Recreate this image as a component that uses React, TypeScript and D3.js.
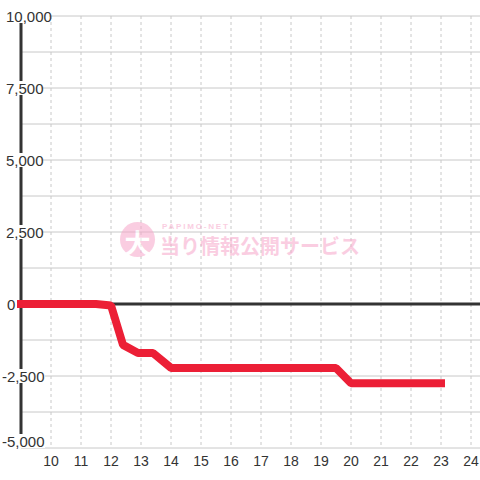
import React from "react";
import * as d3 from "d3";

const hours = [9, 11.5, 12, 12.4, 12.9, 13.4, 14, 19.5, 20, 23];
const values = [0, 0, -50, -1420, -1700, -1700, -2220, -2220, -2750, -2750];
const yTicks = [10000, 7500, 5000, 2500, 0, -2500, -5000];
const yGrid = [10000, 8750, 7500, 6250, 5000, 3750, 2500, 1250, 0, -1250, -2500, -3750, -5000];
const xTicks = [10, 11, 12, 13, 14, 15, 16, 17, 18, 19, 20, 21, 22, 23, 24];

const W = 480;
const H = 480;

export default function App() {
  const x = d3.scaleLinear().domain([9, 24]).range([21, 471]);
  const y = d3.scaleLinear().domain([-5000, 10000]).range([448, 16]);
  const line = d3
    .line<number>()
    .x((_, i) => x(hours[i]))
    .y((d) => y(d));
  const fmt = d3.format(",");
  const font = "'Liberation Sans', Arial, sans-serif";

  return (
    <svg
      width={W}
      height={H}
      style={{ position: "absolute", left: 0, top: 0, background: "#fff" }}
    >
      <rect x={0} y={0} width={W} height={H} fill="#fff" />
      {/* vertical dashed grid */}
      {xTicks.map((t) => (
        <line
          key={"vx" + t}
          x1={x(t)}
          x2={x(t)}
          y1={y(10000)}
          y2={y(-5000)}
          stroke="#c8c8c8"
          strokeWidth={1}
          strokeDasharray="3,3"
        />
      ))}
      {/* horizontal grid */}
      {yGrid.map((t) => (
        <line
          key={"hy" + t}
          x1={x(9)}
          x2={W}
          y1={y(t)}
          y2={y(t)}
          stroke="#c8c8c8"
          strokeWidth={1}
        />
      ))}
      {/* watermark */}
      <g opacity={0.55}>
        <circle cx={137.5} cy={239.5} r={17.5} fill="#f7a6c9" />
        <text
          x={137.5}
          y={241}
          textAnchor="middle"
          dominantBaseline="central"
          fontSize={26}
          fontWeight="bold"
          fill="#fff"
          fontFamily="'Noto Sans CJK JP', sans-serif"
        >
          大
        </text>
        <text
          x={162}
          y={229}
          fontSize={8}
          fontWeight="bold"
          fill="#f7a6c9"
          letterSpacing={1.8}
          fontFamily={font}
        >
          PAPIMO-NET
        </text>
        <text
          x={160}
          y={254}
          fontSize={20}
          fontWeight="bold"
          fill="#f7a6c9"
          fontFamily="'Noto Sans CJK JP', sans-serif"
        >
          当り情報公開サービス
        </text>
      </g>
      {/* y axis */}
      <line x1={x(9)} x2={x(9)} y1={y(10000)} y2={y(-5000)} stroke="#333" strokeWidth={3} />
      {/* zero line */}
      <line x1={x(9)} x2={W} y1={y(0)} y2={y(0)} stroke="#333" strokeWidth={3} />
      {/* data line */}
      <path
        d={line(values) || ""}
        fill="none"
        stroke="#ec1f36"
        strokeWidth={8}
        strokeLinecap="square"
        strokeLinejoin="bevel"
      />
      {/* y labels */}
      {yTicks.map((t) => {
        const label = fmt(t).replace("−", "-");
        const tx = t < 0 ? 2 : t === 0 ? 7 : 6;
        const ty = Math.min(y(t), 441);
        const w = label.length * 7.6 - (label.includes(",") ? 3.5 : 0);
        return (
          <g key={"yl" + t}>
            <rect x={tx - 1} y={ty - 7} width={w + 2} height={14} fill="#fff" />
            <text
              x={tx}
              y={ty}
              dominantBaseline="central"
              fontSize={15}
              fill="#333"
              fontFamily={font}
            >
              {label}
            </text>
          </g>
        );
      })}
      {/* x labels */}
      {xTicks.map((t) => (
        <text
          key={"xl" + t}
          x={x(t)}
          y={466}
          textAnchor="middle"
          fontSize={14}
          fill="#333"
          fontFamily={font}
        >
          {t}
        </text>
      ))}
    </svg>
  );
}
